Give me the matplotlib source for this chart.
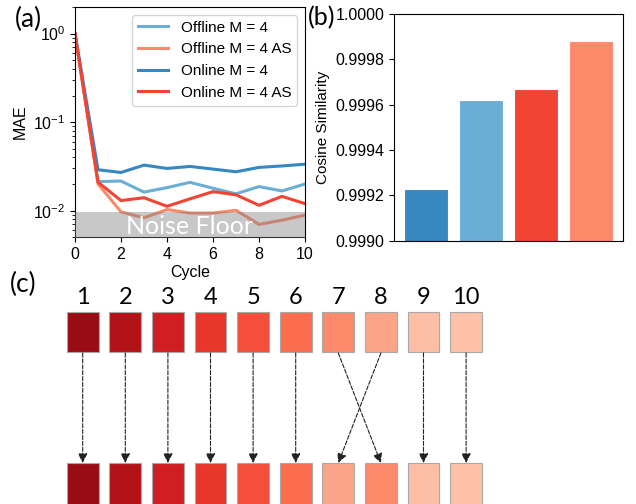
import numpy as np
import matplotlib
matplotlib.use('Agg')
import matplotlib.pyplot as plt
from matplotlib.patches import Rectangle

# (a) MAE per cycle
cycles = np.arange(0, 11)
mae_offline = [1.0, 0.0213, 0.0216, 0.0162, 0.0182, 0.0209, 0.0179, 0.0155, 0.0187, 0.0167, 0.0200]
mae_offline_as = [1.0, 0.0200, 0.0097, 0.0083, 0.0103, 0.0094, 0.0094, 0.0101, 0.0070, 0.0078, 0.0089]
mae_online = [1.0, 0.0290, 0.0270, 0.0327, 0.0300, 0.0316, 0.0295, 0.0275, 0.0308, 0.0320, 0.0335]
mae_online_as = [1.0, 0.0210, 0.0130, 0.0140, 0.0112, 0.0136, 0.0164, 0.0151, 0.0115, 0.0145, 0.0120]
noise_floor = 0.0096

# (b) cosine similarity
methods = ['Online M = 4', 'Offline M = 4', 'Online M = 4 AS', 'Offline M = 4 AS']
cos_sim = [0.99923, 0.99962, 0.99967, 0.99988]

# (c) cycle order before / after sorting
top_order = [1, 2, 3, 4, 5, 6, 7, 8, 9, 10]
bottom_order = [1, 2, 3, 4, 5, 6, 8, 7, 9, 10]

c_off, c_off_as = '#6aaed6', '#fc8a6a'
c_on, c_on_as = '#3787c0', '#f14432'
box_colors = ['#990c13', '#b31317', '#d11e22', '#e9362b', '#f44f3a',
              '#fb6d4d', '#fc8a6a', '#fca487', '#fcbea5', '#fdc1a8']

plt.rcParams['font.family'] = ['Liberation Sans', 'DejaVu Sans']
plt.rcParams['font.size'] = 11.5
W, H = 636, 504
fig = plt.figure(figsize=(W / 100, H / 100), dpi=100)

# panel (c) drawn on a full-figure axes, x in cycle units, y in pixels
ax_c = fig.add_axes([0, 0, 1, 1])
ax_c.axis('off')
step = (466.1 - 82.7) / 9
x0 = 1 - 82.7 / step
ax_c.set_xlim(x0, x0 + W / step)
ax_c.set_ylim(H, 0)
bw = 0.75
for i, c in enumerate(top_order):
    ax_c.add_patch(Rectangle((i + 1 - bw / 2, 311.7), bw, 40, facecolor=box_colors[c - 1],
                             edgecolor='#a8a8a8', lw=0.8))
    ax_c.text(i + 1, 298, str(c), ha='center', va='center', fontsize=17, family='Lato')
for i, c in enumerate(bottom_order):
    ax_c.add_patch(Rectangle((i + 1 - bw / 2, 463), bw, 45, facecolor=box_colors[c - 1],
                             edgecolor='#a8a8a8', lw=0.8))
for i, c in enumerate(top_order):
    j = bottom_order.index(c)
    ax_c.annotate('', xy=(j + 1, 463), xytext=(i + 1, 353),
                  arrowprops=dict(arrowstyle='-|>', ls='--', lw=0.8, color='#222222',
                                  mutation_scale=14, shrinkA=0, shrinkB=0))

# panel (a)
ax_a = fig.add_axes([75 / W, 1 - 237.3 / H, 230 / W, 230.3 / H])
ax_a.plot(cycles, mae_offline, color=c_off, lw=2.2, label='Offline M = 4')
ax_a.plot(cycles, mae_offline_as, color=c_off_as, lw=2.2, label='Offline M = 4 AS')
ax_a.plot(cycles, mae_online, color=c_on, lw=2.2, label='Online M = 4')
ax_a.plot(cycles, mae_online_as, color=c_on_as, lw=2.2, label='Online M = 4 AS')
ax_a.set_yscale('log')
ax_a.set_ylim(0.005, 2.0)
ax_a.set_xlim(0, 10)
ax_a.fill_between([0, 10], 0.001, noise_floor, color='gray', alpha=0.43, lw=0, zorder=3)
ax_a.text(5.0, 0.0067, 'Noise Floor', color='white', ha='center', va='center',
          fontsize=18, family='Lato', zorder=4)
ax_a.set_xticks([0, 2, 4, 6, 8, 10])
ax_a.set_xlabel('Cycle', labelpad=2)
ax_a.set_ylabel('MAE')
ax_a.legend(loc='upper right', fontsize=11)

# panel (b)
ax_b = fig.add_axes([394 / W, 1 - 240.7 / H, 229 / W, 226.7 / H])
ax_b.bar(np.arange(len(methods)), cos_sim, width=0.8,
         color=[c_on, c_off, c_on_as, c_off_as], edgecolor='white', lw=0.8)
ax_b.set_ylim(0.999, 1.0)
ax_b.set_yticks([0.999, 0.9992, 0.9994, 0.9996, 0.9998, 1.0])
ax_b.set_yticklabels(['0.9990', '0.9992', '0.9994', '0.9996', '0.9998', '1.0000'])
ax_b.set_xticks([])
ax_b.set_ylabel('Cosine Similarity', fontsize=11)

fig.text(28 / W, 1 - 19 / H, '(a)', fontsize=19, family='Lato', ha='center', va='center')
fig.text(322 / W, 1 - 18 / H, '(b)', fontsize=18, family='Lato', ha='center', va='center')
fig.text(23 / W, 1 - 284 / H, '(c)', fontsize=19, family='Lato', ha='center', va='center')

fig.savefig('out.png', dpi=100)
